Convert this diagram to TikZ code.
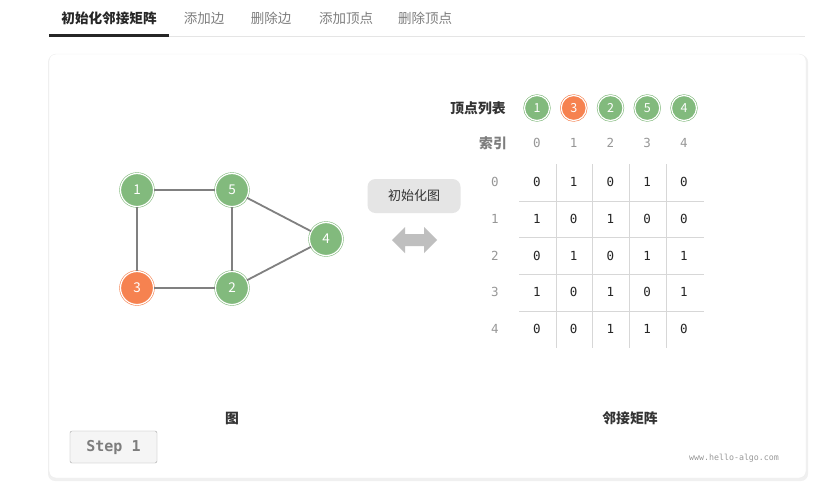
\documentclass[tikz,border=0pt]{standalone}
\usepackage{fontspec}
\usepackage{tikz}
\setmainfont{Noto Sans CJK SC}
\setmonofont{DejaVu Sans Mono}
\definecolor{vgreen}{RGB}{130,186,125}
\definecolor{vorange}{RGB}{246,130,80}
\definecolor{edgegray}{RGB}{128,128,128}
\definecolor{txtgray}{RGB}{125,125,125}
\definecolor{gridgray}{RGB}{215,215,215}

\begin{document}
\begin{tikzpicture}[x=1pt,y=-1pt,
    vtx/.style={circle, fill=vgreen, draw=vgreen, double=white, double distance=1.2pt,
                line width=0.6pt, inner sep=0pt, minimum size=33pt, text=white,
                font=\fontsize{13.5}{15}\selectfont},
    lst/.style={vtx, minimum size=25pt, font=\fontsize{12.5}{14}\selectfont},
    hot/.style={fill=vorange, draw=vorange},
    tab/.style={font=\fontsize{13.5}{15}\selectfont, text=txtgray},
    num/.style={font=\ttfamily\fontsize{12.5}{15}\selectfont, text=black!85},
    idx/.style={num, text=txtgray!80},
    lbl/.style={font=\bfseries\fontsize{13.8}{15}\selectfont, text=black!80}]
    \useasboundingbox (0,0) rectangle (837,496);

    % tabs
    \node[tab, text=black!85, font=\bfseries\fontsize{13.6}{15}\selectfont] (t1) at (109,18) {初始化邻接矩阵};
    \node[tab] (t2) at (204,18) {添加边};
    \node[tab] (t3) at (271,18) {删除边};
    \node[tab] (t4) at (346,18) {添加顶点};
    \node[tab] (t5) at (425,18) {删除顶点};
    \draw[gray!20, line width=0.8pt] (169,36) -- (805,36);
    \draw[black!85, line width=2.4pt] (49,35.5) -- (169,35.5);

    % card
    \fill[black!6, rounded corners=7pt] (48,55) rectangle (808,481);
    \draw[gray!15, fill=white, rounded corners=7pt] (49,54) rectangle (806,478);

    % graph
    \node[vtx] (v1) at (137,190) {1};
    \node[vtx] (v5) at (232,190) {5};
    \node[vtx] (v4) at (326,239) {4};
    \node[vtx, hot] (v3) at (137,288) {3};
    \node[vtx] (v2) at (232,288) {2};
    \draw[edgegray, line width=1.8pt] (v1) -- (v5);
    \draw[edgegray, line width=1.8pt] (v1) -- (v3);
    \draw[edgegray, line width=1.8pt] (v5) -- (v2);
    \draw[edgegray, line width=1.8pt] (v3) -- (v2);
    \draw[edgegray, line width=1.8pt] (v5) -- (v4);
    \draw[edgegray, line width=1.8pt] (v2) -- (v4);

    % init button and arrow
    \node[fill=black!10, rounded corners=8pt, minimum width=93pt, minimum height=34pt,
          font=\fontsize{13}{15}\selectfont, text=black!80] (init) at (414,196) {初始化图};
    \fill[black!25] (392,240) -- (405,227) -- (405,234) -- (424,234) -- (424,227)
        -- (437,240) -- (424,253) -- (424,246) -- (405,246) -- (405,253) -- cycle;

    % vertex list and index
    \node[lbl] (vl) at (478,108) {顶点列表};
    \node[lbl, text=txtgray] (ix) at (493,143) {索引};
    \foreach \v/\c [count=\i from 0] in {1/vgreen,3/vorange,2/vgreen,5/vgreen,4/vgreen} {
        \node[lst, fill=\c, draw=\c] (l\i) at (537+36.75*\i,108) {\v};
        \node[idx] (c\i) at (537+36.75*\i,143) {\i};
        \node[idx] (r\i) at (495,182+36.75*\i) {\i};
    }

    % matrix grid
    \foreach \k in {0,1,2,3}
        \draw[gridgray, line width=0.8pt] (556+36.75*\k,164) -- (556+36.75*\k,348);
    \foreach \k in {0,1,2,3}
        \draw[gridgray, line width=0.8pt] (519,201+36.75*\k) -- (704,201+36.75*\k);

    % matrix values
    \foreach \row [count=\r from 0] in {{0,1,0,1,0},{1,0,1,0,0},{0,1,0,1,1},{1,0,1,0,1},{0,0,1,1,0}}
        \foreach \e [count=\j from 0] in \row
            \node[num] (m\r\j) at (537+36.75*\j,182+36.75*\r) {\e};

    % captions
    \node[lbl] (cg) at (232,418) {图};
    \node[lbl] (cm) at (630,418) {邻接矩阵};

    % step button
    \node[draw=black!35, fill=black!4, rounded corners=2pt, minimum width=87pt, minimum height=32pt,
          font=\ttfamily\bfseries\fontsize{15}{17}\selectfont, text=txtgray] (step) at (113.5,447) {Step 1};
    \node[font=\ttfamily\fontsize{8.3}{9}\selectfont, text=black!40] (www) at (734,458) {www.hello-algo.com};
\end{tikzpicture}
\end{document}
